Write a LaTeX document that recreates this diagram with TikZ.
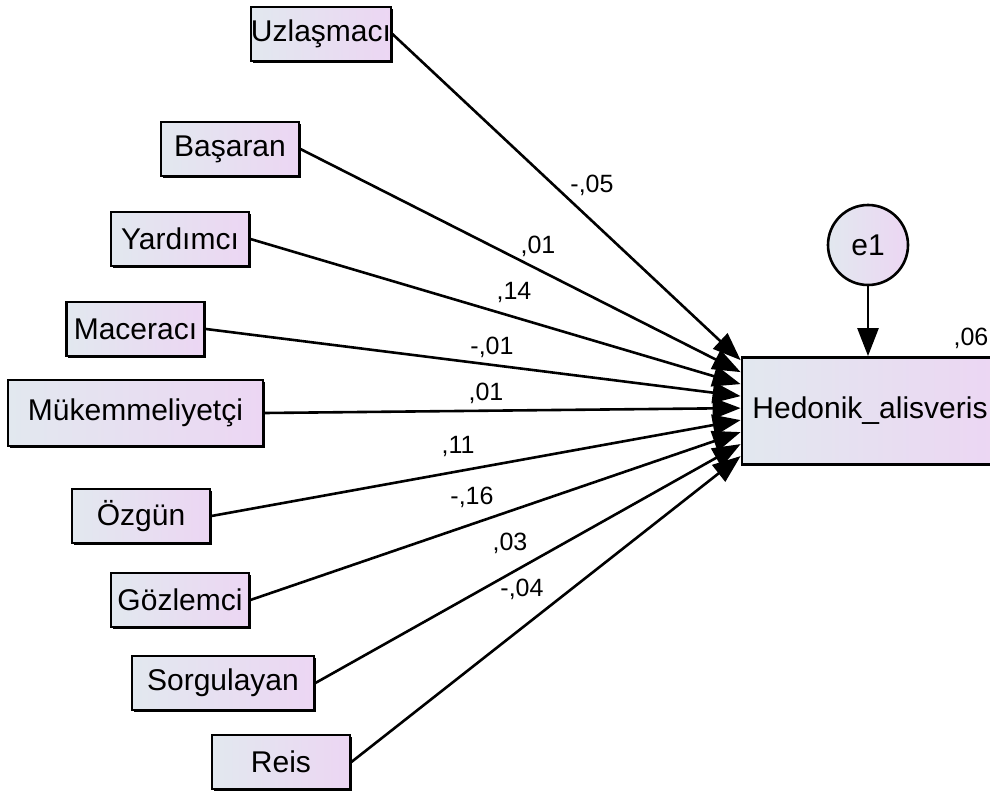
\documentclass[tikz,border=0pt]{standalone}
\usepackage{fontspec}
\setmainfont{Liberation Sans}
\usetikzlibrary{arrows.meta, calc, shadows}

\definecolor{boxleft}{RGB}{226,232,239}
\definecolor{boxright}{RGB}{236,214,243}

\begin{document}
\begin{tikzpicture}[
    x=0.5pt, y=-0.5pt,
    var/.style={rectangle, draw=black, line width=1.4pt, left color=boxleft, right color=boxright, minimum width=69pt, minimum height=27pt, inner sep=0pt, font=\fontsize{15}{18}\selectfont, drop shadow={shadow xshift=0.9pt, shadow yshift=-0.9pt, opacity=1, fill=black}},
    err/.style={circle, draw=black, line width=1.3pt, left color=boxleft, right color=boxright, minimum size=40pt, inner sep=0pt, font=\fontsize{15}{18}\selectfont},
    arrow/.style={-{Triangle[length=14pt,width=10.5pt]}, line width=1.3pt},
    coef/.style={font=\fontsize{12.5}{15}\selectfont, inner sep=0pt}
  ]
    \useasboundingbox (0,0) rectangle (990,792);
    \clip (0,0) rectangle (990,792);
    % predictors
    \node[var] (uzl) at (321,34) {Uzlaşmacı};
    \node[var] (bas) at (230,149) {Başaran};
    \node[var] (yar) at (180,239) {Yardımcı};
    \node[var] (mac) at (135.5,329) {Maceracı};
    \node[var, minimum width=127.5pt, minimum height=33pt] (muk) at (135.5,413) {Mükemmeliyetçi};
    \node[var] (ozg) at (141,516) {Özgün};
    \node[var] (goz) at (180,600) {Gözlemci};
    \node[var, minimum width=91pt] (sor) at (223,683) {Sorgulayan};
    \node[var] (rei) at (281,762) {Reis};
    % outcome and error
    \node[var, minimum width=128pt, minimum height=53.5pt] (hed) at (870,411) {Hedonik\_alisveris};
    \node[err] (e1) at (868,245) {e1};
    \node[coef] (r2) at (971,338) {,06};
    % arrow ends on the left side of hed
    \coordinate (t1) at ($(hed.north west)+(0,4)$);
    \coordinate (t2) at ($(hed.north west)+(0,16)$);
    \coordinate (t3) at ($(hed.north west)+(0,28)$);
    \coordinate (t4) at ($(hed.north west)+(0,40)$);
    \coordinate (t5) at ($(hed.north west)+(0,52)$);
    \coordinate (t6) at ($(hed.north west)+(0,64)$);
    \coordinate (t7) at ($(hed.north west)+(0,76)$);
    \coordinate (t8) at ($(hed.north west)+(0,88)$);
    \coordinate (t9) at ($(hed.north west)+(0,100)$);
    \draw[arrow] (uzl.east) -- (t1);
    \draw[arrow] (bas.east) -- (t2);
    \draw[arrow] (yar.east) -- (t3);
    \draw[arrow] (mac.east) -- (t4);
    \draw[arrow] (muk.east) -- (t5);
    \draw[arrow] (ozg.east) -- (t6);
    \draw[arrow] (goz.east) -- (t7);
    \draw[arrow] (sor.east) -- (t8);
    \draw[arrow] (rei.east) -- (t9);
    \draw[arrow] (e1.south) -- (e1.south |- hed.north);
    % path coefficients
    \node[coef] (c1) at (592,185) {-,05};
    \node[coef] (c2) at (538,246) {,01};
    \node[coef] (c3) at (514,292) {,14};
    \node[coef] (c4) at (492,347) {-,01};
    \node[coef] (c5) at (486,393) {,01};
    \node[coef] (c6) at (458,446) {,11};
    \node[coef] (c7) at (472,497) {-,16};
    \node[coef] (c8) at (510,543) {,03};
    \node[coef] (c9) at (522,589) {-,04};
  \end{tikzpicture}
\end{document}
